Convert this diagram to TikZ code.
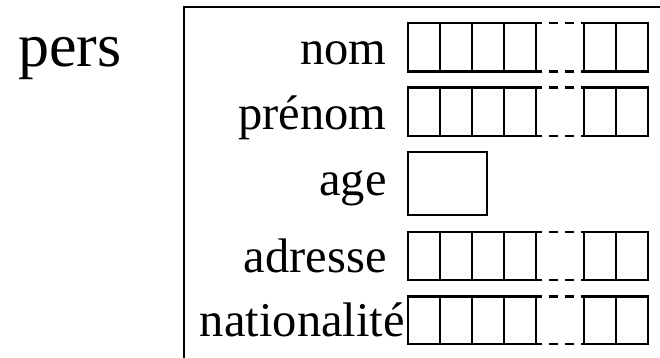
\documentclass[tikz,border=0pt]{standalone}
\usepackage{fontspec}
\setmainfont{Liberation Serif}
\begin{document}
\begin{tikzpicture}[x=1pt,y=-1pt,
  line width=2.6pt,
  lbl/.style={anchor=base east,inner sep=0pt,font=\fontsize{48.5}{58}\selectfont},
  title/.style={anchor=base west,inner sep=0pt,font=\fontsize{62}{72}\selectfont},
  gap/.style={line width=2.6pt,dash pattern=on 9pt off 7pt,dash phase=3pt}]
\useasboundingbox (0,0) rectangle (660,358);
% frame
\coordinate (ftop) at (660,7);
\coordinate (fcorner) at (184,7);
\coordinate (fbot) at (184,358);
\draw (ftop) -- (fcorner) -- (fbot);
% title
\node[title] (pers) at (17,67) {pers};
% labels
\node[lbl] (nom) at (388,64.5) {nom};
\node[lbl] (prenom) at (388,130) {prénom};
\node[lbl] (age) at (388,195) {age};
\node[lbl] (adresse) at (388,272) {adresse};
\node[lbl] (nationalite) at (406,336) {nationalité};
% string rows
\foreach \t/\b in {23/71.5, 87.5/136, 232/280, 296.5/344}{
  \draw (408,\t) rectangle (536,\b);
  \foreach \x in {440,472,504} \draw (\x,\t) -- (\x,\b);
  \draw (584,\t) rectangle (648,\b);
  \draw (616,\t) -- (616,\b);
  \draw[gap] (536,\t) -- (584,\t);
  \draw[gap] (536,\b) -- (584,\b);
}
% age box
\draw (408,152) rectangle (487,215);
\end{tikzpicture}
\end{document}
